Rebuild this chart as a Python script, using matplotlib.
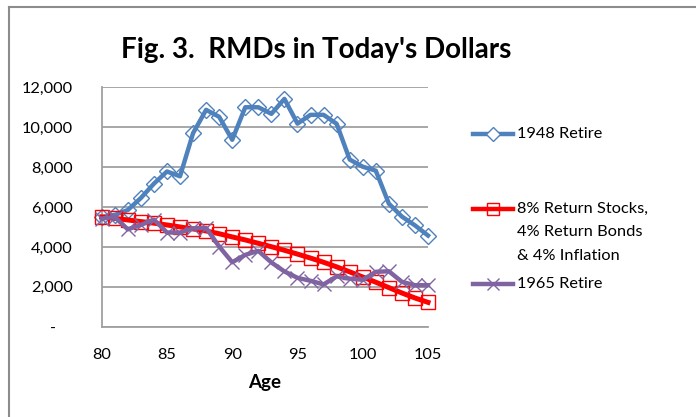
import matplotlib
matplotlib.use("Agg")
import matplotlib.pyplot as plt
from matplotlib.lines import Line2D
from matplotlib.ticker import FuncFormatter

ages = list(range(80, 106))
retire_1948 = [5500, 5600, 5850, 6450, 7170, 7780, 7540, 9700, 10870, 10520, 9370, 11000,
               11000, 10670, 11420, 10180, 10620, 10620, 10170, 8380, 8020, 7820, 6170, 5520,
               5080, 4570]
model_8_4_4 = [5500, 5430, 5350, 5270, 5190, 5100, 5000, 4900, 4800, 4660, 4500, 4350,
               4180, 4010, 3830, 3640, 3440, 3230, 3000, 2750, 2490, 2230, 1960, 1690,
               1440, 1220]
retire_1965 = [5420, 5500, 4880, 5100, 5370, 4720, 4720, 4930, 4950, 4020, 3230, 3600,
               3800, 3220, 2770, 2450, 2300, 2120, 2520, 2410, 2350, 2750, 2780, 2250,
               2080, 2080]
series_labels = ["1948 Retire", "8% Return Stocks,\n4% Return Bonds\n& 4% Inflation", "1965 Retire"]
title = "Fig. 3.  RMDs in Today's Dollars"
xlabel = "Age"
yticks = [0, 2000, 4000, 6000, 8000, 10000, 12000]
xticks = [80, 85, 90, 95, 100, 105]

FONT = "Lato"
plt.rcParams['font.family'] = [FONT, 'DejaVu Sans']

W, H = 696, 417
fig = plt.figure(figsize=(W / 100, H / 100), dpi=100)

def fx(px):
    return px / W

def fy(py):
    return 1 - py / H

left, right, top, bottom = 101.7, 428.0, 87.3, 326.7
ax = fig.add_axes([fx(left), fy(bottom), fx(right) - fx(left), fy(top) - fy(bottom)])

blue = "#4F81BD"
red = "#FF0000"
purple = "#8064A2"
grid_c = "#A0A0A0"

ax.plot(ages, retire_1948, color=blue, lw=3.2, marker="D", ms=8.5, mfc="none",
        mec=blue, mew=1.0, zorder=3, clip_on=False)
ax.plot(ages, model_8_4_4, color=red, lw=3.6, marker="s", ms=10.5, mfc="none",
        mec=red, mew=1.0, zorder=4, clip_on=False)
ax.plot(ages, retire_1965, color=purple, lw=3.2, marker="x", ms=9.5, mfc="none",
        mec=purple, mew=1.0, zorder=5, clip_on=False)

ax.set_xlim(80, 105)
ax.set_ylim(0, 12000)
ax.set_xticks(xticks)
ax.set_yticks(yticks)
ax.yaxis.set_major_formatter(FuncFormatter(lambda v, p: "-    " if v == 0 else f"{int(v):,}"))
ax.tick_params(axis="both", length=0, labelsize=11.8, colors="black")
ax.tick_params(axis="y", pad=21)
ax.tick_params(axis="x", pad=15)
ax.grid(axis="y", color=grid_c, lw=1.3)
ax.set_axisbelow(True)
for s in ["top", "right"]:
    ax.spines[s].set_visible(False)
for s in ["left", "bottom"]:
    ax.spines[s].set_color(grid_c)
    ax.spines[s].set_linewidth(1.3)

ax.set_xlabel(xlabel, fontsize=13.5, fontweight="bold", labelpad=9)

fig.text(fx(316), fy(50), title, ha="center", va="center", fontsize=20, fontweight="bold")

# legend (manual placement)
handles = [(blue, "D", 7.5, 134), (red, "s", 9, 209), (purple, "x", 9, 284)]
for (c, m, ms, yy), lab in zip(handles, series_labels):
    fig.add_artist(Line2D([fx(473), fx(513)], [fy(yy), fy(yy)], color=c, lw=3.2,
                          transform=fig.transFigure))
    fig.add_artist(Line2D([fx(493)], [fy(yy)], color=c, marker=m, ms=ms,
                          mfc="white" if m == "D" else "none",
                          mec=c, mew=1.0, lw=0, transform=fig.transFigure))
    for i, part in enumerate(lab.split("\n")):
        fig.text(fx(517), fy(yy + i * 23.5), part, ha="left", va="center", fontsize=11.8)

# chart area border (left and top visible)
fig.add_artist(Line2D([fx(8.5), fx(8.5)], [fy(6.5), 0], color="#8C8C8C", lw=1.5, transform=fig.transFigure))
fig.add_artist(Line2D([fx(8.5), 1], [fy(6.5), fy(6.5)], color="#8C8C8C", lw=1.5, transform=fig.transFigure))

fig.savefig("out.png", dpi=100, facecolor="white")
